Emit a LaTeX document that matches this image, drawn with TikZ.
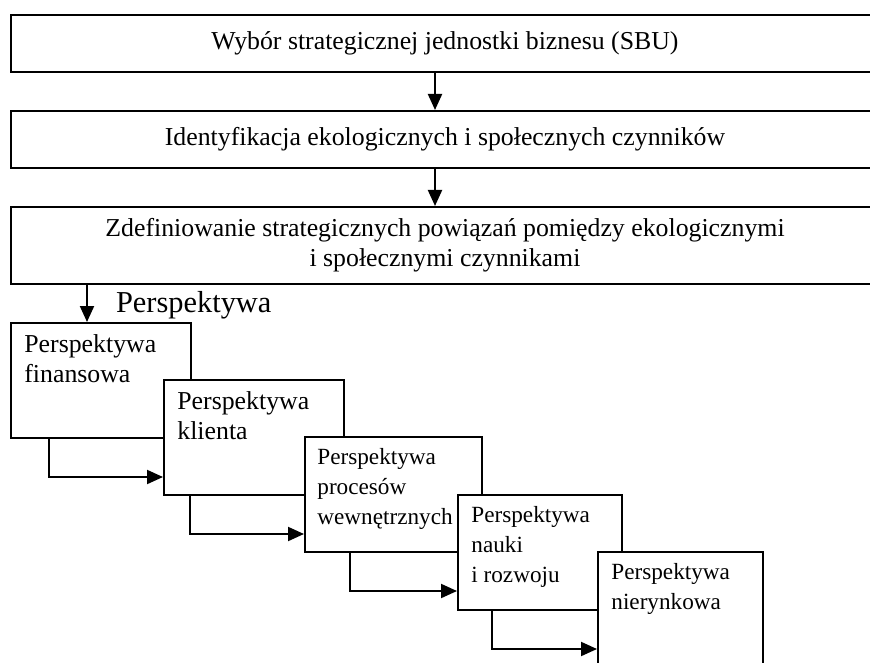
\documentclass[tikz,border=0pt]{standalone}
\usepackage{fontspec}
\setmainfont{Liberation Serif}
\usetikzlibrary{positioning,arrows.meta}

\begin{document}
\begin{tikzpicture}[x=0.5pt,y=-0.5pt,
  every node/.style={font=\fontsize{12.9}{15}\selectfont},
  wide/.style={draw,line width=1pt,fill=white,anchor=north west,minimum width=434pt,align=center,inner sep=0pt},
  pbox/.style={draw,line width=1pt,fill=white,anchor=north west,inner sep=0pt,minimum height=57.5pt},
  ptext/.style={anchor=north west,align=left,inner xsep=7pt,inner ysep=6pt},
  small/.style={font=\fontsize{11.6}{15}\selectfont},
  arr/.style={line width=1pt,-{Triangle[length=8pt,width=7pt]}}]
\useasboundingbox (0,0) rectangle (870,662);
\clip (0,0) rectangle (870,662);
% three wide steps
\node[wide,minimum height=28.5pt] (sbu) at (10,14) {Wybór strategicznej jednostki biznesu (SBU)};
\node[wide,minimum height=28.5pt] (czyn) at (10,110) {Identyfikacja ekologicznych i społecznych czynników};
\node[wide,minimum height=38.5pt] (powiaz) at (10,206) {Zdefiniowanie strategicznych powiązań pomiędzy ekologicznymi\\i społecznymi czynnikami};
\draw[arr] ([xshift=-5pt]sbu.south) -- ([xshift=-5pt]czyn.north);
\draw[arr] ([xshift=-5pt]czyn.south) -- ([xshift=-5pt]powiaz.north);
% perspectives
\node[pbox,minimum width=90pt] (fin) at (10,322) {};
\node[ptext] (finT) at (fin.north west) {Perspektywa\\finansowa};
\node[pbox,minimum width=90pt] (kli) at (163,379) {};
\node[ptext] (kliT) at (kli.north west) {Perspektywa\\klienta};
\node[pbox,minimum width=88.5pt] (pro) at (304,436) {};
\node[ptext,small,inner xsep=6.5pt] (proT) at (pro.north west) {Perspektywa\\procesów\\wewnętrznych};
\node[pbox,minimum width=82pt] (nau) at (457,494) {};
\node[ptext,small] (nauT) at (nau.north west) {Perspektywa\\nauki\\i rozwoju};
\node[pbox,minimum width=82.5pt] (nie) at (597,551) {};
\node[ptext,small] (nieT) at (nie.north west) {Perspektywa\\nierynkowa};
% connectors
\coordinate (pin) at ([xshift=38.5pt]fin.north west);
\draw[arr] (pin |- powiaz.south) -- (pin);
\node[anchor=base west,font=\fontsize{15.2}{18}\selectfont] (plab) at (109,312) {Perspektywa};
\draw[arr] ([xshift=19.5pt]fin.south west) |- ([yshift=-19pt]kli.west |- fin.south);
\draw[arr] ([xshift=13.5pt]kli.south west) |- ([yshift=-19pt]pro.west |- kli.south);
\draw[arr] ([xshift=23pt]pro.south west) |- ([yshift=-19pt]nau.west |- pro.south);
\draw[arr] ([xshift=17.5pt]nau.south west) |- ([yshift=-19pt]nie.west |- nau.south);
\end{tikzpicture}
\end{document}
